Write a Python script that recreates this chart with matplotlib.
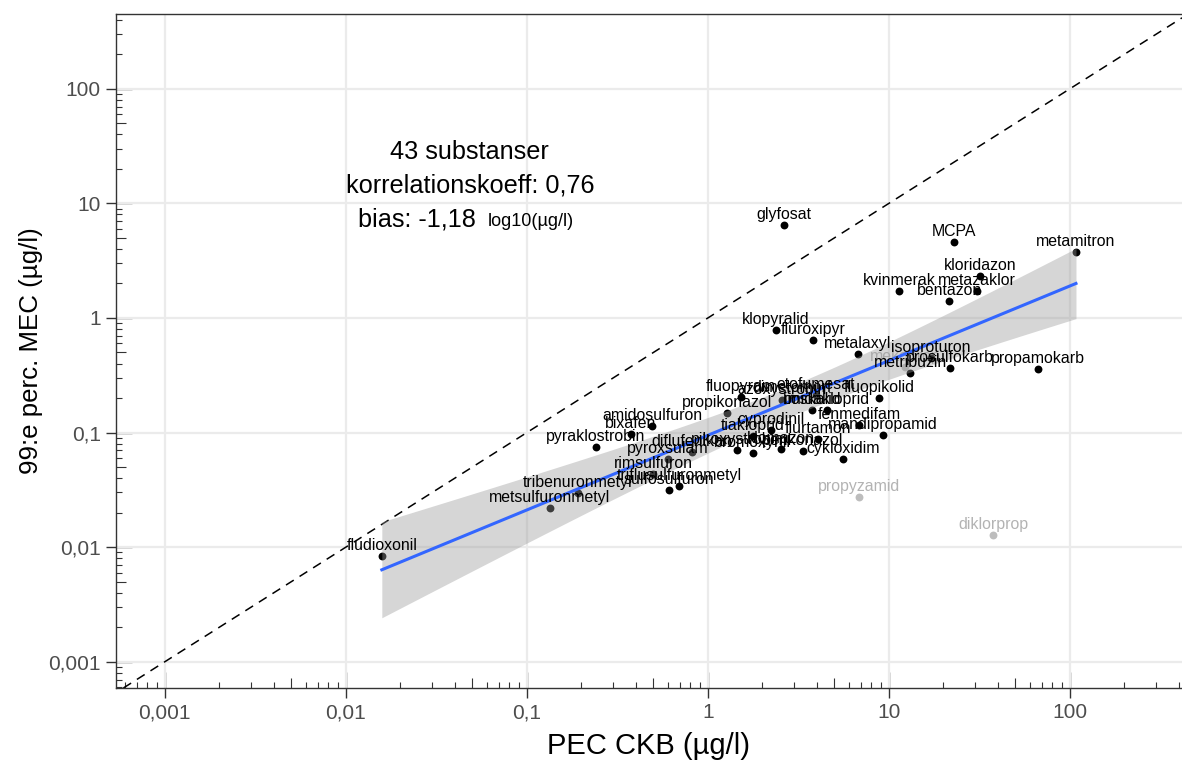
import numpy as np
import matplotlib
matplotlib.use("Agg")
import matplotlib.pyplot as plt
from matplotlib.ticker import FixedLocator, FuncFormatter, NullFormatter

plt.rcParams['font.family'] = ['Liberation Sans', 'DejaVu Sans']

# substanser som ingår (svarta)
namn = ["fludioxonil", "metsulfuronmetyl", "tribenuronmetyl", "pyraklostrobin", "bixafen",
        "amidosulfuron", "rimsulfuron", "pyroxsulam", "sulfosulfuron", "triflusulfuronmetyl",
        "diflufenikan", "propikonazol", "fluopyram", "tiakloprid", "cyprodinil",
        "pikoxystrobin", "bromoxynil", "klomazon", "penkonazol", "cykloxidim",
        "boskalid", "imidakloprid", "fenmedifam", "mandipropamid", "fluopikolid",
        "metalaxyl", "metribuzin", "prosulfokarb", "isoproturon", "propamokarb",
        "klopyralid", "fluroxipyr", "bentazon", "kvinmerak", "metazaklor",
        "kloridazon", "MCPA", "glyfosat", "metamitron", "etofumesat",
        "azoxystrobin", "flurtamon", "dimetomorf"]
pec = [0.0158, 0.134, 0.191, 0.240, 0.376,
       0.491, 0.497, 0.601, 0.609, 0.691,
       0.816, 1.27, 1.52, 1.77, 2.23,
       1.45, 1.77, 2.53, 3.35, 5.57,
       3.75, 4.54, 6.83, 9.27, 8.81,
       6.74, 13.1, 21.7, 17.1, 66.5,
       2.37, 3.80, 21.5, 11.4, 30.6,
       31.8, 22.9, 2.63, 108, 3.95,
       2.56, 4.05, 2.9]
mec = [0.00838, 0.0220, 0.0297, 0.0749, 0.0973,
       0.114, 0.0435, 0.0588, 0.0316, 0.0342,
       0.0677, 0.148, 0.205, 0.0934, 0.105,
       0.0705, 0.0664, 0.0719, 0.0690, 0.0588,
       0.157, 0.157, 0.117, 0.0953, 0.200,
       0.485, 0.331, 0.366, 0.448, 0.359,
       0.786, 0.643, 1.41, 1.72, 1.72,
       2.33, 4.60, 6.48, 3.77, 0.213,
       0.192, 0.088, 0.20]

# substanser som inte ingår (grå)
namn_ej = ["propyzamid", "diklorprop", "mekoprop"]
pec_ej = [6.83, 37.6, 12.3]
mec_ej = [0.0274, 0.0128, 0.373]

fig = plt.figure(figsize=(11.82, 7.62), dpi=100)
ax = fig.add_axes([0.0981, 0.0971, 0.9019, 0.8845])
ax.set_xscale('log')
ax.set_yscale('log')
ax.set_xlim(0.000537, 416)
ax.set_ylim(0.00059, 449)

ax.grid(True, which='major', color='#EBEBEB', lw=1.6, zorder=0)
ax.set_axisbelow(True)

# 1:1-linje
ax.axline((1, 1), (10, 10), color='black', ls=(0, (6, 4.5)), lw=1.1, zorder=1)

ax.scatter(pec_ej, mec_ej, s=32, color='#BDBDBD', zorder=2, linewidths=0)
ax.scatter(pec, mec, s=32, color='black', zorder=2, linewidths=0)

# linjär regression i log-skala med 95 % konfidensband
lx = np.log10(pec)
ly = np.log10(mec)
n = len(lx)
k, m = np.polyfit(lx, ly, 1)
res = ly - (k * lx + m)
s = np.sqrt(np.sum(res ** 2) / (n - 2))
xs = np.linspace(lx.min(), lx.max(), 100)
ys = k * xs + m
se = s * np.sqrt(1 / n + (xs - lx.mean()) ** 2 / np.sum((lx - lx.mean()) ** 2))
t = 2.02
ax.fill_between(10 ** xs, 10 ** (ys - t * se), 10 ** (ys + t * se), color='#999999',
                alpha=0.4, lw=0, zorder=3)
ax.plot(10 ** xs, 10 ** ys, color='#3366FF', lw=2.2, zorder=4)

for nm, x, y in zip(namn, pec, mec):
    ax.annotate(nm, (x, y), xytext=(0, 7.5), textcoords='offset points', ha='center',
                va='center', fontsize=11.4, color='black', zorder=5)
for nm, x, y in zip(namn_ej, pec_ej, mec_ej):
    ax.annotate(nm, (x, y), xytext=(0, 7.5), textcoords='offset points', ha='center',
                va='center', fontsize=11.4, color='#B3B3B3', zorder=1.5)

ax.text(0.0484, 28.1, "43 substanser", ha='center', va='center', fontsize=18.2)
ax.text(0.0484, 14.2, "korrelationskoeff: 0,76", ha='center', va='center', fontsize=18.2)
ax.text(0.0247, 7.17, "bias: -1,18", ha='center', va='center', fontsize=18.2)
ax.text(0.0609, 6.9, "log10(µg/l)", ha='left', va='center', fontsize=13)

# axlar
dec = [0.001, 0.01, 0.1, 1, 10, 100]
etik = ["0,001", "0,01", "0,1", "1", "10", "100"]
fmt = FuncFormatter(lambda v, p: etik[dec.index(v)] if v in dec else "")
for axis in (ax.xaxis, ax.yaxis):
    axis.set_major_locator(FixedLocator(dec))
    axis.set_major_formatter(fmt)
    axis.set_minor_locator(FixedLocator([d * f for d in [0.0001] + dec for f in (2, 3, 4, 6, 7, 8, 9)]))
    axis.set_minor_formatter(NullFormatter())
ax.tick_params(which='major', direction='out', length=7, width=1, color='#333333',
               labelsize=15, labelcolor='#4D4D4D', pad=4)
ax.tick_params(which='minor', direction='in', length=4, width=0.8, color='#333333')

# log-ticks (långa vid dekader, mellan vid 5)
for sec in (ax.secondary_xaxis('bottom'), ax.secondary_yaxis('left')):
    a = sec.xaxis if sec._orientation == 'x' else sec.yaxis
    a.set_major_locator(FixedLocator([0.0001] + dec + [1000]))
    a.set_minor_locator(FixedLocator([d * 5 for d in [0.0001] + dec]))
    a.set_major_formatter(NullFormatter())
    a.set_minor_formatter(NullFormatter())
    sec.tick_params(which='major', direction='in', length=11.5, width=1, color='#333333')
    sec.tick_params(which='minor', direction='in', length=7, width=0.8, color='#333333')
    for sp in sec.spines.values():
        sp.set_visible(False)

ax.spines['right'].set_visible(False)
for sp in ('left', 'bottom', 'top'):
    ax.spines[sp].set_color('#333333')
    ax.spines[sp].set_linewidth(1)

ax.set_xlabel("PEC CKB (µg/l)", fontsize=21, labelpad=7)
ax.set_ylabel("99:e perc. MEC (µg/l)", fontsize=18.6, labelpad=4)

fig.savefig("out.png", dpi=100)
